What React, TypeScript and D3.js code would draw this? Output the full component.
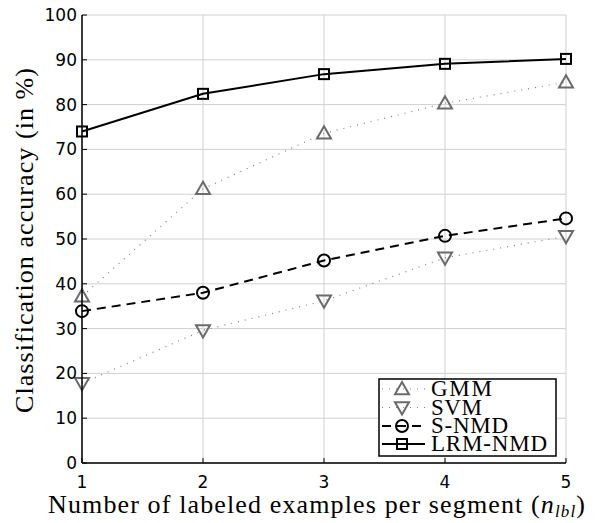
import React from "react";
import * as d3 from "d3";

const xValues = [1, 2, 3, 4, 5];
const gmm = [37.2, 61.2, 73.6, 80.3, 85.0];
const svm = [17.8, 29.6, 36.2, 45.8, 50.6];
const snmd = [33.9, 38.0, 45.2, 50.7, 54.6];
const lrmnmd = [74.0, 82.4, 86.8, 89.1, 90.2];
const yTicks = [0, 10, 20, 30, 40, 50, 60, 70, 80, 90, 100];
const xTicks = [1, 2, 3, 4, 5];
const seriesNames = ["GMM", "SVM", "S-NMD", "LRM-NMD"];

const W = 595, H = 523;
const left = 82, right = 566, top = 15, bottom = 463;

type Marker = "up" | "down" | "circle" | "square";
const styles = [
  { data: gmm, color: "#808080", width: 1.2, dash: "1 6", marker: "up" as Marker, mColor: "#6b6b6b", legLen: 61 },
  { data: svm, color: "#808080", width: 1.2, dash: "1 6", marker: "down" as Marker, mColor: "#6b6b6b", legLen: 51 },
  { data: snmd, color: "#000", width: 2, dash: "9 6", marker: "circle" as Marker, mColor: "#000", legLen: 77 },
  { data: lrmnmd, color: "#000", width: 2, dash: "none", marker: "square" as Marker, mColor: "#000", legLen: 116 },
];

function MarkerShape({ type, x, y, color }: { type: Marker; x: number; y: number; color: string }) {
  const sw = 2;
  if (type === "up") {
    const s = 7;
    return <path d={`M${x},${y - s} L${x + s},${y + s * 0.75} L${x - s},${y + s * 0.75} Z`} fill="none" stroke={color} strokeWidth={sw} />;
  }
  if (type === "down") {
    const s = 7;
    return <path d={`M${x},${y + s} L${x + s},${y - s * 0.75} L${x - s},${y - s * 0.75} Z`} fill="none" stroke={color} strokeWidth={sw} />;
  }
  if (type === "circle") {
    return <circle cx={x} cy={y} r={6} fill="none" stroke={color} strokeWidth={sw} />;
  }
  return <rect x={x - 5} y={y - 5} width={10} height={10} fill="none" stroke={color} strokeWidth={sw} />;
}

const serif = "Liberation Serif, serif";
const sans = "DejaVu Sans, sans-serif";

export default function App() {
  const x = d3.scaleLinear().domain([1, 5]).range([left, right]);
  const y = d3.scaleLinear().domain([0, 100]).range([bottom, top]);
  const line = d3.line<number>().x((_, i) => x(xValues[i])).y((d) => y(d));

  const legX = 379, legY = 379, legW = 177, legH = 77;
  const rowY = [389, 407.5, 426, 444];

  return (
    <svg width={W} height={H} style={{ position: "absolute", left: 0, top: 0, background: "#fff" }}>
      <rect width={W} height={H} fill="#fff" />
      {yTicks.map((t) => (
        <line key={"gy" + t} x1={left} x2={right} y1={y(t)} y2={y(t)} stroke="#d0d0d0" strokeWidth={1} />
      ))}
      {xTicks.map((t) => (
        <line key={"gx" + t} x1={x(t)} x2={x(t)} y1={top} y2={bottom} stroke="#d0d0d0" strokeWidth={1} />
      ))}
      {styles.map((s, i) => (
        <g key={i}>
          <path d={line(s.data) || ""} fill="none" stroke={s.color} strokeWidth={s.width} strokeDasharray={s.dash} />
          {s.data.map((v, j) => (
            <MarkerShape key={j} type={s.marker} x={x(xValues[j])} y={y(v)} color={s.mColor} />
          ))}
        </g>
      ))}
      <line x1={left} x2={left} y1={top} y2={bottom} stroke="#000" strokeWidth={1.5} />
      <line x1={left} x2={right} y1={bottom} y2={bottom} stroke="#000" strokeWidth={1.5} />
      {yTicks.map((t) => (
        <g key={"ty" + t}>
          <line x1={left} x2={left + 5} y1={y(t)} y2={y(t)} stroke="#000" strokeWidth={1} />
          <text x={left - 5} y={y(t) + 6} textAnchor="end" fontFamily={sans} fontSize={17} fill="#000">{t}</text>
        </g>
      ))}
      {xTicks.map((t) => (
        <g key={"tx" + t}>
          <line x1={x(t)} x2={x(t)} y1={bottom} y2={bottom - 5} stroke="#000" strokeWidth={1} />
          <text x={x(t)} y={488} textAnchor="middle" fontFamily={sans} fontSize={17} fill="#000">{t}</text>
        </g>
      ))}
      <text x={48} y={513} fontFamily={serif} fontSize={26} fill="#000" textLength={537} lengthAdjust="spacing">
        Number of labeled examples per segment (<tspan fontStyle="italic">n</tspan><tspan fontStyle="italic" fontSize={17} dy={4}>lbl</tspan><tspan dy={-4}>)</tspan>
      </text>
      <text transform={`translate(33,413) rotate(-90)`} fontFamily={serif} fontSize={26} fill="#000" textLength={345} lengthAdjust="spacing">
        Classification accuracy (in %)
      </text>
      <rect x={legX} y={legY} width={legW} height={legH} fill="#fff" stroke="#000" strokeWidth={1.5} />
      {styles.map((s, i) => (
        <g key={"lg" + i}>
          <line x1={legX + 3} x2={legX + 46} y1={rowY[i]} y2={rowY[i]} stroke={s.color} strokeWidth={s.width} strokeDasharray={s.dash} />
          <MarkerShape type={s.marker} x={legX + 23} y={rowY[i]} color={s.mColor} />
          <text x={legX + 52} y={rowY[i] + 7} fontFamily={serif} fontSize={23} fill="#000" textLength={s.legLen} lengthAdjust="spacing">{seriesNames[i]}</text>
        </g>
      ))}
    </svg>
  );
}
